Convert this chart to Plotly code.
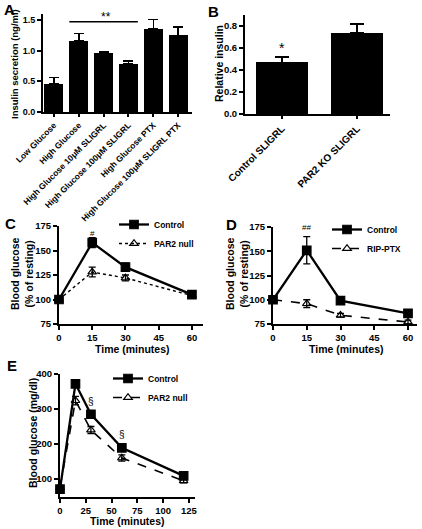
import plotly.graph_objects as go

W, H = 422, 529
FONT = "Liberation Sans, Arial, sans-serif"

# ---------------- data ----------------
a_labels = ["Low Glucose", "High Glucose", "High Glucose 10μM SLIGRL",
            "High Glucose 100μM SLIGRL", "High Glucose PTX",
            "High Glucose 100μM SLIGRL PTX"]
a_values = [0.46, 1.16, 0.96, 0.78, 1.35, 1.25]
a_err = [0.10, 0.12, 0.03, 0.05, 0.16, 0.14]

b_labels = ["Control SLIGRL", "PAR2 KO SLIGRL"]
b_values = [0.47, 0.74]
b_err = [0.05, 0.08]

c_time = [0, 15, 30, 60]
c_control = [100, 158, 133, 105]
c_control_err = [1, 5, 4, 3]
c_null = [100, 128, 122, 104]
c_null_err = [1, 5, 3, 2]

d_time = [0, 15, 30, 60]
d_control = [100, 151, 99, 86]
d_control_err = [1, 14, 2, 3]
d_ptx = [100, 96, 84, 77]
d_ptx_err = [1, 4, 2, 2]

e_time = [0, 15, 30, 60, 120]
e_control = [71, 372, 285, 189, 109]
e_control_err = [5, 8, 10, 6, 6]
e_null = [76, 324, 240, 160, 95]
e_null_err = [5, 12, 10, 9, 6]

# ---------------- helpers ----------------
def px(x):
    return x / W

def py(y):
    return 1 - y / H

def fnt(size, bold=True):
    d = dict(family=FONT, size=size, color="black")
    if bold:
        d["weight"] = "bold"
    return d

fig = go.Figure()

# Panel A bars
fig.add_trace(go.Bar(
    x=list(range(len(a_labels))), y=a_values, width=0.76,
    marker=dict(color="black", line=dict(width=0)),
    error_y=dict(type="data", symmetric=False, array=a_err,
                 arrayminus=[0] * len(a_err), color="black", thickness=1.5, width=5),
    xaxis="x", yaxis="y", showlegend=False, cliponaxis=False))

# Panel B bars
fig.add_trace(go.Bar(
    x=list(range(len(b_labels))), y=b_values, width=0.69,
    marker=dict(color="black", line=dict(width=0)),
    error_y=dict(type="data", symmetric=False, array=b_err,
                 arrayminus=[0] * len(b_err), color="black", thickness=1.5, width=7),
    xaxis="x2", yaxis="y2", showlegend=False, cliponaxis=False))

def line_trace(x, y, err, name, ax, ay, legend, filled, dash, lw):
    return go.Scatter(
        x=x, y=y, name=name, mode="lines+markers", xaxis=ax, yaxis=ay,
        legend=legend, cliponaxis=False,
        line=dict(color="black", width=lw, dash=dash),
        marker=dict(symbol="square" if filled else "triangle-up-open",
                    size=8.5 if filled else 7.5, color="black",
                    line=dict(color="black", width=1.2)),
        error_y=dict(type="data", array=err, color="black", thickness=1.3, width=3.5))

# Panel C
fig.add_trace(line_trace(c_time, c_control, c_control_err, "Control", "x3", "y3", "legend", True, "solid", 2.3))
fig.add_trace(line_trace(c_time, c_null, c_null_err, "PAR2 null", "x3", "y3", "legend", False, "dot", 1.4))
# Panel D
fig.add_trace(line_trace(d_time, d_control, d_control_err, "Control", "x4", "y4", "legend2", True, "solid", 2.3))
fig.add_trace(line_trace(d_time, d_ptx, d_ptx_err, "RIP-PTX", "x4", "y4", "legend2", False, "dash", 1.6))
# Panel E
fig.add_trace(line_trace(e_time, e_control, e_control_err, "Control", "x5", "y5", "legend3", True, "solid", 2.3))
fig.add_trace(line_trace(e_time, e_null, e_null_err, "PAR2 null", "x5", "y5", "legend3", False, "dash", 1.6))

axis_common = dict(showline=True, linecolor="black", linewidth=2, ticks="outside",
                   ticklen=4, tickwidth=1.5, tickcolor="black", showgrid=False,
                   zeroline=False, automargin=False, fixedrange=True)

def yax(domain, rng, dtick, anchor, fmt=None, size=9.5):
    d = dict(axis_common, domain=domain, range=rng, dtick=dtick, tick0=rng[0],
             anchor=anchor, tickfont=fnt(size))
    if fmt:
        d["tickformat"] = fmt
    return d

layout = dict(
    width=W, height=H, margin=dict(l=0, r=0, t=0, b=0),
    paper_bgcolor="white", plot_bgcolor="white", bargap=0,
    xaxis=dict(axis_common, domain=[px(43), px(192)], range=[-0.44, 5.56],
               tickvals=list(range(len(a_labels))), ticktext=a_labels,
               tickangle=-45, tickfont=fnt(8.5), anchor="y", ticklen=3),
    yaxis=yax([py(112), py(13.9)], [0, 1.6], 0.5, "x", ".1f", 9),
    xaxis2=dict(axis_common, domain=[px(245), px(390)], range=[-0.49, 1.44],
                tickvals=list(range(len(b_labels))), ticktext=b_labels,
                tickangle=-45, tickfont=fnt(10), anchor="y2", ticklen=3),
    yaxis2=yax([py(114), py(15)], [0, 0.9], 0.2, "x2", ".1f"),
    xaxis3=dict(axis_common, domain=[px(59), px(203)], range=[0, 65], dtick=15,
                tick0=0, tickfont=fnt(9.5), anchor="y3"),
    yaxis3=yax([py(324), py(226)], [75, 175], 25, "x3"),
    xaxis4=dict(axis_common, domain=[px(273), px(417)], range=[0, 64], dtick=15,
                tick0=0, tickfont=fnt(9.5), anchor="y4"),
    yaxis4=yax([py(324), py(227)], [75, 175], 25, "x4"),
    xaxis5=dict(axis_common, domain=[px(60), px(195)], range=[0, 131], dtick=25,
                tick0=0, tickfont=fnt(9.5), anchor="y5"),
    yaxis5=yax([py(496.5), py(374)], [50, 400], 100, "x5"),
)
layout["yaxis5"]["tickvals"] = [100, 200, 300, 400]

leg_common = dict(font=fnt(8.5), bgcolor="rgba(0,0,0,0)", borderwidth=0,
                  itemwidth=30, xanchor="left", yanchor="top",
                  tracegroupgap=0, itemclick=False, itemdoubleclick=False)
layout["legend"] = dict(leg_common, x=px(114), y=py(210))
layout["legend2"] = dict(leg_common, x=px(327), y=py(215))
layout["legend3"] = dict(leg_common, x=px(108), y=py(364))

fig.update_layout(**layout)

# significance line in A
fig.add_shape(type="line", xref="x", yref="y", x0=0.62, x1=3.38, y0=1.47, y1=1.47,
              line=dict(color="black", width=1.5))

ann = []
def note(text, x, y, xref, yref, size, bold=True, angle=0):
    ann.append(dict(text=text, x=x, y=y, xref=xref, yref=yref, showarrow=False,
                    xanchor="center", yanchor="middle",
                    font=fnt(size, bold), textangle=angle))

# significance marks
note("**", 2.1, 1.55, "x", "y", 12, False)
note("*", 0, 0.6, "x2", "y2", 14, False)
note("#", 15, 167, "x3", "y3", 8, False)
note("##", 15, 174, "x4", "y4", 8, False)
note("§§", 15, 405, "x5", "y5", 10, False)
note("§", 30, 322, "x5", "y5", 10, False)
note("§", 60, 228, "x5", "y5", 10, False)

# panel letters
note("A", px(9), py(9), "paper", "paper", 15)
note("B", px(213), py(12), "paper", "paper", 15)
note("C", px(10), py(223), "paper", "paper", 15)
note("D", px(231), py(224), "paper", "paper", 15)
note("E", px(12), py(366), "paper", "paper", 15)

# axis titles
note("Insulin secretion (ng/ml)", px(14), py(64), "paper", "paper", 9.5, angle=-90)
note("Relative insulin", px(219), py(64), "paper", "paper", 10.5, angle=-90)
note("Blood glucose<br>(% of resting)", px(22), py(274), "paper", "paper", 10.5, angle=-90)
note("Blood glucose<br>(% of resting)", px(237), py(274), "paper", "paper", 10.5, angle=-90)
note("Blood glucose (mg/dl)", px(33), py(433), "paper", "paper", 10.5, angle=-90)
note("Time (minutes)", px(132), py(349), "paper", "paper", 10.5)
note("Time (minutes)", px(346), py(349), "paper", "paper", 10.5)
note("Time (minutes)", px(127), py(521), "paper", "paper", 10.5)

fig.update_layout(annotations=ann)
fig.write_html("out.html", config={"displayModeBar": False},
               post_script="document.body.style.margin='0';")
